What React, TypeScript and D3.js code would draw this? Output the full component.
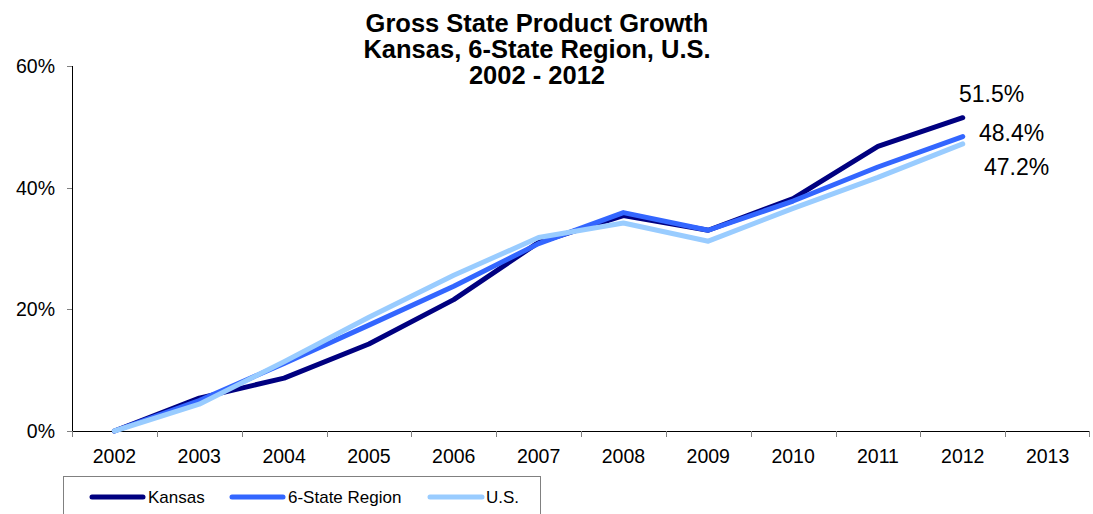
import React from "react";
import * as d3 from "d3";

const years = ["2002", "2003", "2004", "2005", "2006", "2007", "2008", "2009", "2010", "2011", "2012", "2013"];
const kansas = [0, 5.4, 8.7, 14.3, 21.6, 31.0, 35.4, 33.0, 38.2, 46.8, 51.5];
const region = [0, 5.0, 11.1, 17.4, 23.8, 30.8, 35.9, 33.0, 37.8, 43.4, 48.4];
const us = [0, 4.4, 11.4, 18.7, 25.6, 31.8, 34.2, 31.2, 36.6, 41.7, 47.2];
const yTicks = [0, 20, 40, 60];
const titleLines = ["Gross State Product Growth", "Kansas, 6-State Region, U.S.", "2002 - 2012"];
const endLabels = ["51.5%", "48.4%", "47.2%"];

const series = [
  { name: "Kansas", values: kansas, color: "#000080" },
  { name: "6-State Region", values: region, color: "#3366FF" },
  { name: "U.S.", values: us, color: "#99CCFF" },
];

const FONT = "'Liberation Sans', Arial, sans-serif";

export default function App() {
  const W = 1093, H = 514;
  const x = d3.scaleBand<string>().domain(years).range([72, 1090]).padding(0);
  const y = d3.scaleLinear().domain([0, 60]).range([431, 66]);
  const cx = (i: number) => (x(years[i]) as number) + x.bandwidth() / 2;
  const line = d3
    .line<number>()
    .x((_, i) => cx(i))
    .y((d) => y(d));

  const labelPos = [
    { x: 959, y: 102 },
    { x: 979, y: 141 },
    { x: 984, y: 175 },
  ];
  const legendItems = [
    { x1: 92, x2: 143, tx: 148 },
    { x1: 232, x2: 283, tx: 288 },
    { x1: 430, x2: 482, tx: 486 },
  ];

  return (
    <svg width={W} height={H} style={{ position: "absolute", left: 0, top: 0, background: "#fff" }} fontFamily={FONT}>
      <rect x={0} y={0} width={W} height={H} fill="#fff" />
      {titleLines.map((t, i) => (
        <text key={t} x={537} y={32 + i * 26} textAnchor="middle" fontSize={25.5} fontWeight="bold" fill="#000">
          {t}
        </text>
      ))}
      {/* y axis */}
      <line x1={72.5} x2={72.5} y1={y(60)} y2={y(0)} stroke="#000" strokeWidth={1} />
      {yTicks.map((t) => (
        <g key={t}>
          <line x1={67} x2={72} y1={Math.round(y(t)) + 0.5} y2={Math.round(y(t)) + 0.5} stroke="#808080" />
          <text x={55} y={y(t) + 7} textAnchor="end" fontSize={19.5} fill="#000">
            {t}%
          </text>
        </g>
      ))}
      {/* x axis */}
      <line x1={72} x2={1090} y1={431.5} y2={431.5} stroke="#000" strokeWidth={1} />
      {years.map((yr) => (
        <line key={"t" + yr} x1={Math.round(x(yr) as number) + 0.5} x2={Math.round(x(yr) as number) + 0.5} y1={431} y2={437} stroke="#808080" />
      ))}
      <line x1={1089.5} x2={1089.5} y1={431} y2={437} stroke="#808080" />
      {years.map((yr) => (
        <text key={yr} x={(x(yr) as number) + x.bandwidth() / 2} y={463} textAnchor="middle" fontSize={19.5} fill="#000">
          {yr}
        </text>
      ))}
      {/* lines */}
      {series.map((s) => (
        <path key={s.name} d={line(s.values) || ""} fill="none" stroke={s.color} strokeWidth={5} strokeLinejoin="round" strokeLinecap="round" />
      ))}
      {endLabels.map((l, i) => (
        <text key={l} x={labelPos[i].x} y={labelPos[i].y} fontSize={23} fill="#000">
          {l}
        </text>
      ))}
      {/* legend */}
      <rect x={63.5} y={476.5} width={477} height={60} fill="#fff" stroke="#808080" strokeWidth={1} />
      {series.map((s, i) => (
        <g key={"lg" + s.name}>
          <line x1={legendItems[i].x1} x2={legendItems[i].x2} y1={497} y2={497} stroke={s.color} strokeWidth={5} strokeLinecap="round" />
          <text x={legendItems[i].tx} y={503} fontSize={17} fill="#000">
            {s.name}
          </text>
        </g>
      ))}
    </svg>
  );
}
